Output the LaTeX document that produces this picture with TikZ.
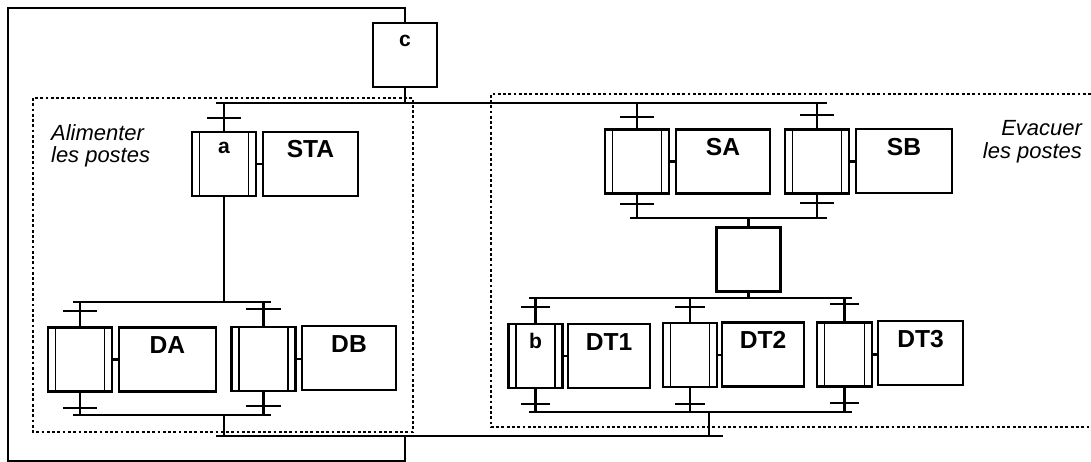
\documentclass[tikz,border=0pt]{standalone}
\usepackage{fontspec}
\setmainfont{Liberation Sans}
\usepackage{tikz}

\begin{document}
\begin{tikzpicture}[x=0.02cm,y=-0.02cm,line width=1.3pt,
  cadre/.style={draw,minimum width=#1,minimum height=1.28cm,inner sep=0pt},
  etape/.style={cadre=#1,path picture={
    \draw[line width=0.9pt] ([xshift=0.15cm]path picture bounding box.north west) -- ([xshift=0.15cm]path picture bounding box.south west);
    \draw[line width=0.9pt] ([xshift=-0.15cm]path picture bounding box.north east) -- ([xshift=-0.15cm]path picture bounding box.south east);}},
  trans/.style={minimum width=#1,minimum height=0pt,inner sep=0pt},
  trans/.default=0.64cm,
  lbl/.style={font=\fontsize{14}{16}\selectfont\bfseries,inner sep=0pt},
  nom/.style={font=\fontsize{12}{14}\selectfont\bfseries,inner sep=0pt},
  zone/.style={line width=0.9pt,dash pattern=on 1.6pt off 1.4pt},
  titre/.style={font=\fontsize{12.5}{13}\selectfont\itshape,inner sep=0pt}]
\useasboundingbox (0,0) rectangle (1091,462);

% zones
\draw[zone] (33,98) rectangle (413,432);
\draw[zone] (1091,94) -- (491,94) -- (491,427) -- (1091,427);
\node[titre,align=left,anchor=north west] (alim) at (50,123) {Alimenter\\les postes};
\node[titre,align=right,anchor=north east] (evac) at (1083,119) {Evacuer\\les postes};

% bars
\coordinate (b0l) at (216,103); \coordinate (b0r) at (827,103);
\coordinate (b1l) at (73,302);  \coordinate (b1r) at (271,302);
\coordinate (b2l) at (73,415);  \coordinate (b2r) at (271,415);
\coordinate (b3l) at (630,218); \coordinate (b3r) at (827,218);
\coordinate (b4l) at (529,298); \coordinate (b4r) at (852,298);
\coordinate (b5l) at (529,412); \coordinate (b5r) at (852,412);
\coordinate (b6l) at (216,436); \coordinate (b6r) at (723,436);
\foreach \b in {0,...,6} \draw (b\b l) -- (b\b r);

% steps and actions
\node[cadre=1.28cm] (c) at (405,55) {};
\node[nom] (lc) at ([yshift=-0.38cm]c.north) {c};

\node[etape=1.28cm] (a) at (224,164) {};
\node[nom] (la) at ([yshift=-0.34cm]a.north) {a};
\node[cadre=1.9cm] (sta) at (310.5,164) {};
\node[lbl] (lsta) at ([yshift=-0.36cm]sta.north) {STA};

\node[etape=1.28cm] (ea) at (80,359.5) {};
\node[cadre=1.94cm] (da) at (167.5,359.5) {};
\node[lbl] (lda) at ([yshift=-0.38cm]da.north) {DA};
\node[etape=1.28cm] (eb) at (263.5,359) {};
\node[cadre=1.88cm] (db) at (349,358) {};
\node[lbl] (ldb) at ([yshift=-0.38cm]db.north) {DB};

\node[etape=1.28cm] (esa) at (637,161.5) {};
\node[cadre=1.88cm] (sa) at (723,161.5) {};
\node[lbl] (lsa) at ([yshift=-0.38cm]sa.north) {SA};
\node[etape=1.28cm] (esb) at (817,161.5) {};
\node[cadre=1.92cm] (sb) at (904,161) {};
\node[lbl] (lsb) at ([yshift=-0.38cm]sb.north) {SB};

\node[cadre=1.28cm] (e5) at (748.5,259.5) {};

\node[etape=1.08cm] (b) at (535.5,356) {};
\node[nom] (lb) at ([yshift=-0.36cm]b.north) {b};
\node[cadre=1.64cm] (dt1) at (609,356) {};
\node[lbl] (ldt1) at ([yshift=-0.38cm]dt1.north) {DT1};
\node[etape=1.08cm] (e7) at (690,355) {};
\node[cadre=1.64cm] (dt2) at (763,354.5) {};
\node[lbl] (ldt2) at ([yshift=-0.38cm]dt2.north) {DT2};
\node[etape=1.1cm] (e8) at (844.5,354.5) {};
\node[cadre=1.7cm] (dt3) at (920.5,353) {};
\node[lbl] (ldt3) at ([yshift=-0.38cm]dt3.north) {DT3};

% step to action
\foreach \s/\t in {a/sta,ea/da,eb/db,esa/sa,esb/sb,b/dt1,e7/dt2,e8/dt3}
  \draw (\s.east) -- (\s.east -| \t.west);

% links
\draw (c.south) -- (c.south |- b0l);
\foreach \s in {a,esa,esb} \draw (\s.north) -- (\s.north |- b0l);
\draw (a.south) -- (a.south |- b1l);
\foreach \s in {ea,eb} {
  \draw (\s.north) -- (\s.north |- b1l);
  \draw (\s.south) -- (\s.south |- b2l);
}
\draw (a.south |- b2l) -- (a.south |- b6l);
\foreach \s in {esa,esb} \draw (\s.south) -- (\s.south |- b3l);
\draw (e5.north) -- (e5.north |- b3l);
\draw (e5.south) -- (e5.south |- b4l);
\foreach \s in {b,e7,e8} {
  \draw (\s.north) -- (\s.north |- b4l);
  \draw (\s.south) -- (\s.south |- b5l);
}
\coordinate (j2) at (709,412);
\draw (j2) -- (j2 |- b6l);

% loop back to c
\coordinate (lhaut) at (8,8);
\coordinate (lbas) at (8,461);
\draw (c.north) |- (lhaut) -- (lbas) -| (c.south |- b6l);

% transitions
\foreach \x/\y/\w [count=\i] in {224/118/0.64cm,80/311/0.64cm,80/408/0.64cm,
    263.5/309/0.64cm,263.5/406/0.64cm,637/117/0.64cm,637/204/0.64cm,
    817/115/0.64cm,817/203/0.64cm,535.5/307/0.54cm,535.5/404/0.54cm,
    690/307/0.54cm,690/404/0.54cm,844.5/304/0.54cm,844.5/403/0.54cm} {
  \node[trans=\w] (t\i) at (\x,\y) {};
  \draw (t\i.west) -- (t\i.east);
}
\end{tikzpicture}
\end{document}
